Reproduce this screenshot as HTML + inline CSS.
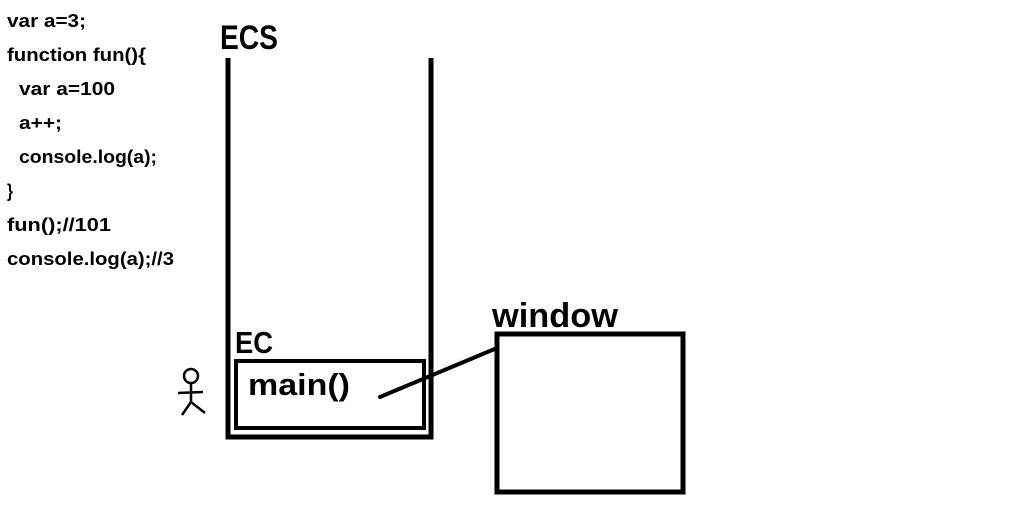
<!DOCTYPE html>
<html><head><meta charset="utf-8"><style>
html,body{margin:0;padding:0;background:#fff;width:1018px;height:521px;overflow:hidden}
svg text{font-family:"Liberation Sans","DejaVu Sans",sans-serif;font-weight:bold;fill:#000}
</style></head><body>
<svg width="1018" height="521" viewBox="0 0 1018 521" xmlns="http://www.w3.org/2000/svg">
<g font-size="18">
<text x="7" y="27" textLength="79" lengthAdjust="spacingAndGlyphs">var a=3;</text>
<text x="7" y="61" textLength="139" lengthAdjust="spacingAndGlyphs">function fun(){</text>
<text x="19" y="95" textLength="96" lengthAdjust="spacingAndGlyphs">var a=100</text>
<text x="19" y="129" textLength="43" lengthAdjust="spacingAndGlyphs">a++;</text>
<text x="19" y="163" textLength="138" lengthAdjust="spacingAndGlyphs">console.log(a);</text>
<text x="7" y="197" textLength="6" lengthAdjust="spacingAndGlyphs">}</text>
<text x="7" y="231" textLength="104" lengthAdjust="spacingAndGlyphs">fun();//101</text>
<text x="7" y="265" textLength="167" lengthAdjust="spacingAndGlyphs">console.log(a);//3</text>
</g>
<text x="220" y="49" font-size="34" textLength="58" lengthAdjust="spacingAndGlyphs">ECS</text>
<path d="M228 58 V437 H431 V58" fill="none" stroke="#000" stroke-width="5"/>
<text x="235" y="353" font-size="31" textLength="38" lengthAdjust="spacingAndGlyphs">EC</text>
<rect x="236" y="361" width="188" height="67" fill="none" stroke="#000" stroke-width="4"/>
<text x="248" y="395" font-size="31" textLength="102" lengthAdjust="spacingAndGlyphs">main()</text>
<line x1="380" y1="397" x2="497" y2="348" stroke="#000" stroke-width="4" stroke-linecap="round"/>
<text x="492" y="327" font-size="34" textLength="126" lengthAdjust="spacingAndGlyphs">window</text>
<rect x="497" y="334" width="186" height="158" fill="none" stroke="#000" stroke-width="5"/>
<g fill="none" stroke="#000" stroke-width="2.5">
<circle cx="191" cy="376" r="7"/>
<line x1="191" y1="383" x2="191" y2="402"/>
<line x1="178" y1="393" x2="203" y2="392"/>
<line x1="191" y1="402" x2="182" y2="415"/>
<line x1="191" y1="402" x2="205" y2="413"/>
</g>
</svg>
</body></html>
